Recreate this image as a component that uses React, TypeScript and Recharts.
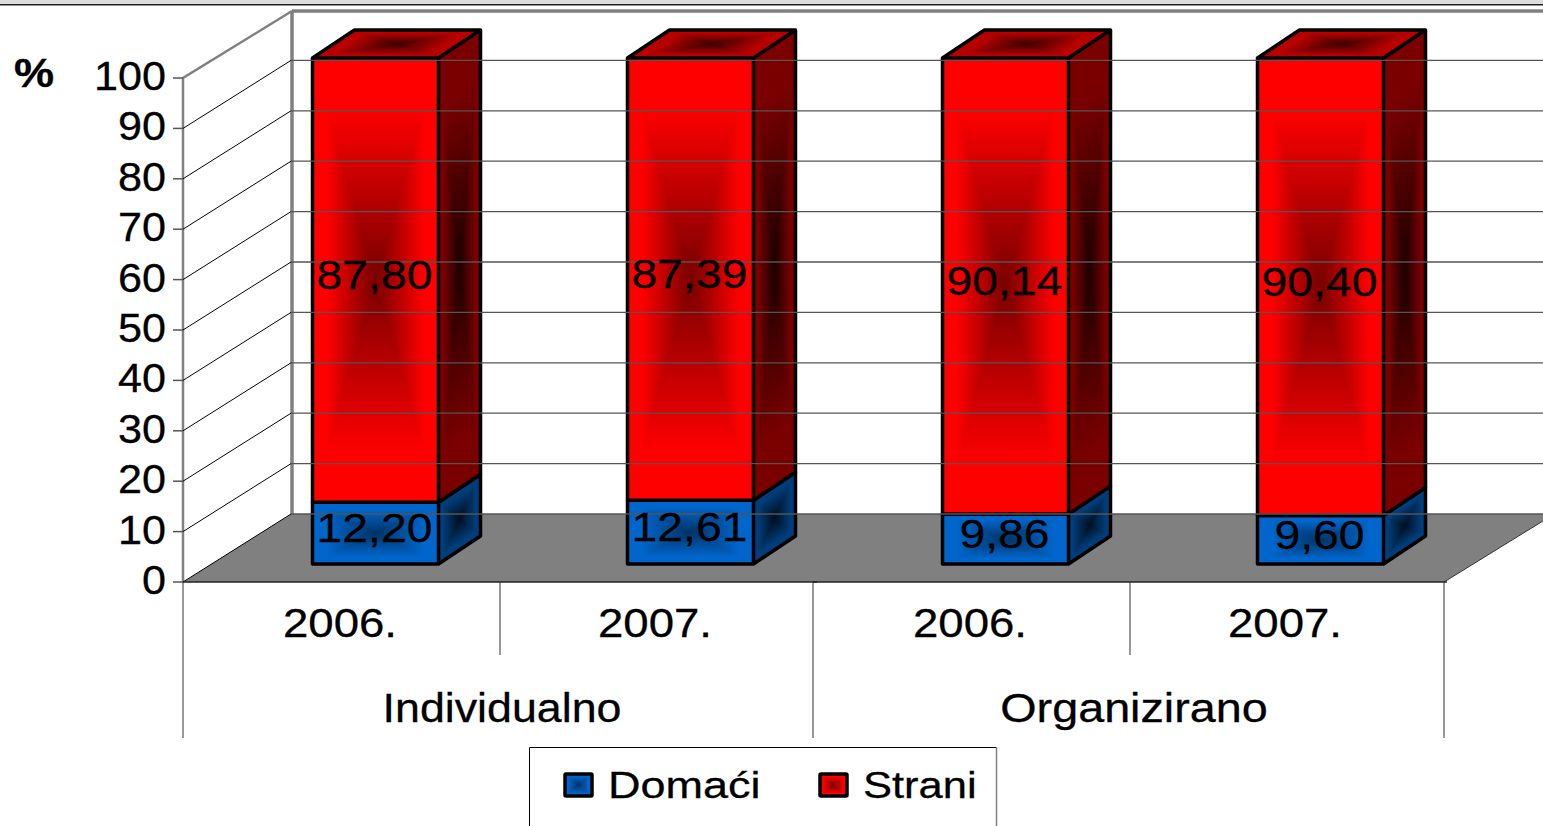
import { BarChart, Bar, XAxis, YAxis, Legend, LabelList } from "recharts";

const years = ["2006.", "2007.", "2006.", "2007."];
const groups = ["Individualno", "Individualno", "Organizirano", "Organizirano"];
const domaci = [12.2, 12.61, 9.86, 9.6];
const strani = [87.8, 87.39, 90.14, 90.4];
const axisTicks = [0, 10, 20, 30, 40, 50, 60, 70, 80, 90, 100];

const data = years.map((year, i) => ({
  year,
  group: groups[i],
  domaci: domaci[i],
  strani: strani[i],
}));

const FONT = "'Liberation Sans', Arial, sans-serif";
const GRAY = "#808080";

// frame of the fake 3D box, in page pixels
const FRONT_X = 183;
const FLOOR_Y = 582;
const DEPTH_X = 108;
const DEPTH_Y = 68;
const RIGHT_X = 1444;
const BAR_DX = 42;
const BAR_DY = 28;

// [edge, centre] colours of the rectangular "from centre" gradients
const SHADES: Record<string, [string, string]> = {
  "red-front": ["#ff0000", "#780000"],
  "red-side": ["#7a0000", "#1c0000"],
  "red-top": ["#b80000", "#3c0000"],
  "blue-front": ["#0066cc", "#003366"],
  "blue-side": ["#003d7a", "#000f1f"],
  "blue-top": ["#0050a0", "#001f3f"],
};

const DIRECTIONS = {
  t: { x1: 0, y1: 0, x2: 0, y2: 1 },
  b: { x1: 0, y1: 1, x2: 0, y2: 0 },
  l: { x1: 0, y1: 0, x2: 1, y2: 0 },
  r: { x1: 1, y1: 0, x2: 0, y2: 0 },
};

const TRIANGLES = {
  t: "0,0 1,0 .5,.5",
  b: "0,1 1,1 .5,.5",
  l: "0,0 0,1 .5,.5",
  r: "1,0 1,1 .5,.5",
};

function Gradients() {
  return (
    <svg width={0} height={0} style={{ position: "absolute" }}>
      <defs>
        {Object.entries(SHADES).flatMap(([key, [edge, centre]]) =>
          Object.entries(DIRECTIONS).map(([dir, v]) => (
            <linearGradient key={key + dir} id={`${key}-${dir}`} {...v}>
              <stop offset="0" stopColor={edge} />
              <stop offset="0.22" stopColor={edge} />
              <stop offset="1" stopColor={centre} />
            </linearGradient>
          ))
        )}
      </defs>
    </svg>
  );
}

// unit square mapped on a parallelogram, so that the gradient follows the face
function Face({ shade, o, u, v }: { shade: string; o: number[]; u: number[]; v: number[] }) {
  return (
    <g transform={`matrix(${u[0]} ${u[1]} ${v[0]} ${v[1]} ${o[0]} ${o[1]})`} shapeRendering="crispEdges">
      {Object.entries(TRIANGLES).map(([dir, points]) => (
        <polygon key={dir} points={points} fill={`url(#${shade}-${dir})`} />
      ))}
    </g>
  );
}

function Box({ x, y, width, height, color }: any) {
  const r = x + width;
  const b = y + height;
  const dx = BAR_DX;
  const dy = BAR_DY;
  return (
    <g>
      <Face shade={`${color}-top`} o={[x + dx, y - dy]} u={[width, 0]} v={[-dx, dy]} />
      <Face shade={`${color}-side`} o={[r, y]} u={[dx, -dy]} v={[0, height]} />
      <Face shade={`${color}-front`} o={[x, y]} u={[width, 0]} v={[0, height]} />
      <path
        d={`M${x} ${y}L${x + dx} ${y - dy}H${r + dx}V${b - dy}L${r} ${b}H${x}Z M${x} ${y}H${r}V${b} M${r} ${y}L${r + dx} ${y - dy}`}
        fill="none"
        stroke="#000"
        strokeWidth={3.5}
        strokeLinejoin="round"
      />
    </g>
  );
}

function StretchedText({ x, y, sx, size = 41, anchor = "middle", weight, children }: any) {
  return (
    <text
      transform={`translate(${x} ${y}) scale(${sx} 1)`}
      textAnchor={anchor}
      fontFamily={FONT}
      fontSize={size}
      fontWeight={weight}
      fill="#000"
      stroke="#000"
      strokeWidth={0.3}
    >
      {children}
    </text>
  );
}

function ValueTick({ y, payload }: any) {
  const top = payload.value === 100;
  return (
    <g>
      <line x1={FRONT_X - 10} x2={FRONT_X} y1={y} y2={y} stroke="#555" strokeWidth={1.5} />
      {!top && <line x1={FRONT_X} x2={FRONT_X + DEPTH_X} y1={y} y2={y - DEPTH_Y} stroke="#000" />}
      {!top && <line x1={FRONT_X + DEPTH_X} x2={1543} y1={y - DEPTH_Y} y2={y - DEPTH_Y} stroke="#555" strokeWidth={1.3} />}
      <StretchedText x={166} y={y + 12} sx={1.053} anchor="end">
        {payload.value}
      </StretchedText>
    </g>
  );
}

function YearTick({ x, payload, index }: any) {
  const left = x - 192 + (index % 2) * 2;
  return (
    <g>
      <line x1={left} x2={left + 317} y1={FLOOR_Y} y2={FLOOR_Y} stroke="#222" strokeWidth={1.5} />
      {index % 2 === 1 && <line x1={left} x2={left} y1={FLOOR_Y} y2={655} stroke="#333" />}
      <StretchedText x={x - 35} y={637} sx={1.112}>
        {payload.value}
      </StretchedText>
    </g>
  );
}

function GroupTick({ x, payload, index }: any) {
  if (index % 2 === 1) return <g />;
  return (
    <g>
      <line x1={x - 192} x2={x - 192} y1={FLOOR_Y} y2={738} stroke="#333" />
      {index === 2 && <line x1={RIGHT_X} x2={RIGHT_X} y1={FLOOR_Y} y2={738} stroke="#333" />}
      <StretchedText x={x + (index === 2 ? 129 : 127)} y={722} sx={index === 2 ? 1.14 : 1.092}>
        {payload.value}
      </StretchedText>
    </g>
  );
}

function ValueLabel({ x, y, width, height, value }: any) {
  return (
    <StretchedText x={x + width / 2 - 1} y={y + height / 2 + 9} sx={1.13}>
      {Number(value).toFixed(2).replace(".", ",")}
    </StretchedText>
  );
}

const LEGEND_COLORS: Record<string, string> = { domaci: "blue", strani: "red" };

function LegendBox({ payload }: any) {
  return (
    <svg width={469} height={80} style={{ display: "block" }}>
      <path d="M0.5 80V0.5H467.5" fill="none" stroke="#000" />
      <path d="M467.5 0.5V80" fill="none" stroke={GRAY} strokeWidth={1.5} />
      {(payload ?? []).map((entry: any, i: number) => {
        const left = i === 0 ? 36 : 291;
        return (
          <g key={entry.dataKey}>
            <Face
              shade={`${LEGEND_COLORS[entry.dataKey]}-front`}
              o={[left, 27]}
              u={[27, 0]}
              v={[0, 22]}
            />
            <rect x={left} y={27} width={27} height={22} fill="none" stroke="#000" strokeWidth={3.5} rx={1} />
            <StretchedText x={left + 43} y={51} sx={i === 0 ? 1.2 : 1.16} size={37.5} anchor="start">
              {entry.value}
            </StretchedText>
          </g>
        );
      })}
    </svg>
  );
}

export default function App() {
  return (
    <div style={{ position: "absolute", left: 0, top: 0, width: 1543, height: 826, overflow: "hidden", background: "#fff" }}>
      <Gradients />
      <BarChart
        width={1543}
        height={826}
        data={data}
        barSize={126}
        margin={{ top: 58, right: 65.5, bottom: 0, left: 0 }}
      >
        <YAxis
          yAxisId="front"
          width={217.5}
          type="number"
          domain={[0, 103.97]}
          allowDataOverflow
          ticks={axisTicks}
          interval={0}
          axisLine={false}
          tickLine={false}
          tick={ValueTick}
          zIndex={-50}
        />
        <YAxis yAxisId="bars" hide type="number" domain={[-3.557, 100]} />

        <rect x={0} y={0} width={1543} height={4} fill="#dcdcdc" />
        <rect x={0} y={4} width={1543} height={1.5} fill="#222" />
        <polygon
          points={`${FRONT_X},${FLOOR_Y} ${FRONT_X + DEPTH_X},${FLOOR_Y - DEPTH_Y} 1543,${FLOOR_Y - DEPTH_Y} 1543,521 ${RIGHT_X},${FLOOR_Y}`}
          fill={GRAY}
        />
        <line x1={RIGHT_X} y1={FLOOR_Y} x2={1543} y2={521} stroke="#333" />
        <path d={`M${FRONT_X} ${FLOOR_Y}V78L292 11`} fill="none" stroke={GRAY} strokeWidth={2.5} />
        <path d="M292 11V514M292 11H1543" fill="none" stroke={GRAY} strokeWidth={3.5} />

        <XAxis dataKey="year" height={82} interval={0} axisLine={false} tickLine={false} tick={YearTick} />
        <XAxis xAxisId="group" dataKey="group" height={82} interval={0} axisLine={false} tickLine={false} tick={GroupTick} />

        <Bar
          dataKey="domaci"
          name="Domaći"
          stackId="a"
          yAxisId="bars"
          fill="#0066cc"
          isAnimationActive={false}
          shape={(p: any) => <Box {...p} color="blue" />}
        >
          <LabelList dataKey="domaci" content={ValueLabel} />
        </Bar>
        <Bar
          dataKey="strani"
          name="Strani"
          stackId="a"
          yAxisId="bars"
          fill="#ff0000"
          isAnimationActive={false}
          shape={(p: any) => <Box {...p} color="red" />}
        >
          <LabelList dataKey="strani" content={ValueLabel} />
        </Bar>

        <StretchedText x={14} y={87} sx={1.1} anchor="start" weight="bold">
          %
        </StretchedText>

        <Legend
          verticalAlign="bottom"
          height={80}
          content={LegendBox}
          wrapperStyle={{ left: 529, top: 747, bottom: "auto", width: 469, height: 80 }}
        />
      </BarChart>
    </div>
  );
}
